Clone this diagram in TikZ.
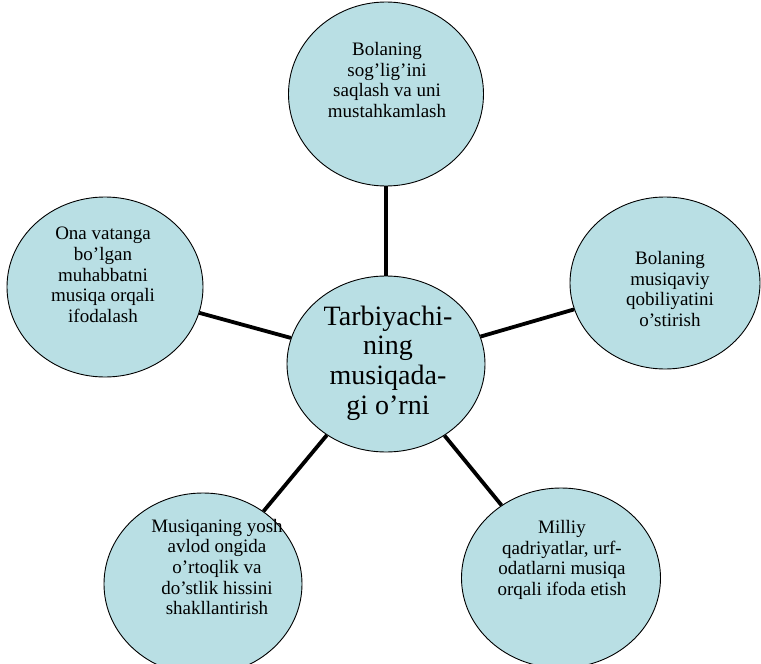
\documentclass[tikz,border=0pt]{standalone}
\usepackage{fontspec}
\setmainfont{Liberation Serif}
\usetikzlibrary{shapes.geometric}
\definecolor{bubblefill}{RGB}{185,223,228}
\begin{document}
\begin{tikzpicture}[
        x=1pt, y=-1pt,
        bubble/.style={ellipse, draw, line width=0.9pt, fill=bubblefill, inner sep=0pt},
        bubble_text/.style={align=center, inner sep=0pt, font=\fontsize{19}{20.7}\selectfont},
        hub_text/.style={align=center, inner sep=0pt, font=\fontsize{28}{29.7}\selectfont},
        spoke/.style={line width=3.8pt}
    ]
        \useasboundingbox (0,0) rectangle (761,664);

        % Central ellipse
        \node[bubble, minimum width=198pt, minimum height=176pt] (hub) at (386,364) {};
        \node[hub_text] (hub_label) at (388,363) {Tarbiyachi-\\ning\\musiqada-\\gi o'rni};

        % Surrounding ellipses
        \node[bubble, minimum width=195pt, minimum height=184pt] (top) at (386,94) {};
        \node[bubble, minimum width=196pt, minimum height=180pt] (left) at (105,287) {};
        \node[bubble, minimum width=190pt, minimum height=172pt] (right) at (665,283) {};
        \node[bubble, minimum width=198pt, minimum height=182pt] (bottom_left) at (203,584) {};
        \node[bubble, minimum width=199pt, minimum height=180pt] (bottom_right) at (561,578) {};

        % Texts inside the ellipses
        \node[bubble_text] (top_label) at (387,80) {Bolaning\\sog'lig'ini\\saqlash va uni\\mustahkamlash};
        \node[bubble_text] (left_label) at (103,275) {Ona vatanga\\bo'lgan\\muhabbatni\\musiqa orqali\\ifodalash};
        \node[bubble_text] (right_label) at (670,289) {Bolaning\\musiqaviy\\qobiliyatini\\o'stirish};
        \node[bubble_text] (bottom_left_label) at (217,567) {Musiqaning yosh\\avlod ongida\\o'rtoqlik va\\do'stlik hissini\\shakllantirish};
        \node[bubble_text] (bottom_right_label) at (562,560) {Milliy\\qadriyatlar, urf-\\odatlarni musiqa\\orqali ifoda etish};

        % Connections
        \draw[spoke] (hub) -- (top);
        \draw[spoke] (hub) -- (left);
        \draw[spoke] (hub) -- (right);
        \draw[spoke] (hub) -- (bottom_left);
        \draw[spoke] (hub) -- (bottom_right);

    \end{tikzpicture}
\end{document}
